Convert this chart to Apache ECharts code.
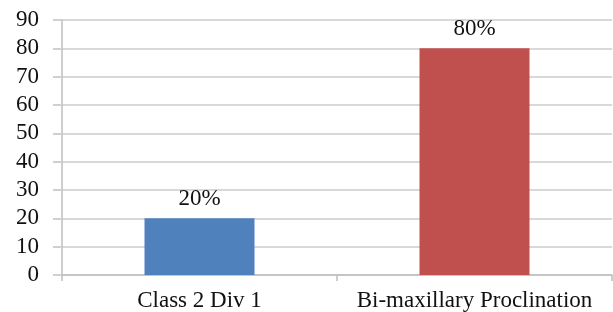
<!DOCTYPE html>
<html>
    <head>
        <meta charset="UTF-8">
        <title>Bar chart</title>
        <script type="text/javascript" src="https://cdn.jsdelivr.net/npm/echarts@6/dist/echarts.min.js"></script>
    </head>
    <body style="margin: 0; background: #fff;">
        <div id="container" style="width: 613px; height: 312px;"></div>
    </body>
    <script type="text/javascript">
        var categories = ['Class 2 Div 1', 'Bi-maxillary Proclination'];
        var values = [20, 80];
        var barColors = ['#4f81bd', '#c0504d'];
        var yTicks = { min: 0, max: 90, interval: 10 };

        var myChart = echarts.init(document.getElementById('container'));
        var font = '"Liberation Serif", "Times New Roman", serif';

        var option = {
            animation: false,
            grid: { left: 62, right: 1, top: 20, bottom: 35 },
            xAxis: {
                type: 'category',
                data: categories,
                axisLine: { lineStyle: { color: '#bfbfbf', width: 1.5 } },
                axisTick: { show: true, length: 6, lineStyle: { color: '#bfbfbf', width: 1.5 } },
                axisLabel: {
                    interval: 0,
                    hideOverlap: false,
                    color: '#111',
                    fontFamily: font,
                    fontSize: 23,
                    margin: 14
                }
            },
            yAxis: {
                type: 'value',
                min: yTicks.min,
                max: yTicks.max,
                interval: yTicks.interval,
                axisLine: { show: true, lineStyle: { color: '#bfbfbf', width: 1.5 } },
                axisTick: { show: true, length: 9, lineStyle: { color: '#d0d0d0', width: 2 } },
                axisLabel: { color: '#111', fontFamily: font, fontSize: 23, margin: 23 },
                splitLine: { lineStyle: { color: '#d9d9d9', width: 2 } }
            },
            series: [{
                type: 'bar',
                barWidth: '40%',
                data: values.map(function (v, i) {
                    return { value: v, itemStyle: { color: barColors[i] } };
                }),
                label: {
                    show: true,
                    position: 'top',
                    distance: 8,
                    formatter: '{c}%',
                    color: '#111',
                    fontFamily: font,
                    fontSize: 23
                }
            }]
        };

        myChart.setOption(option);
    </script>
</html>
